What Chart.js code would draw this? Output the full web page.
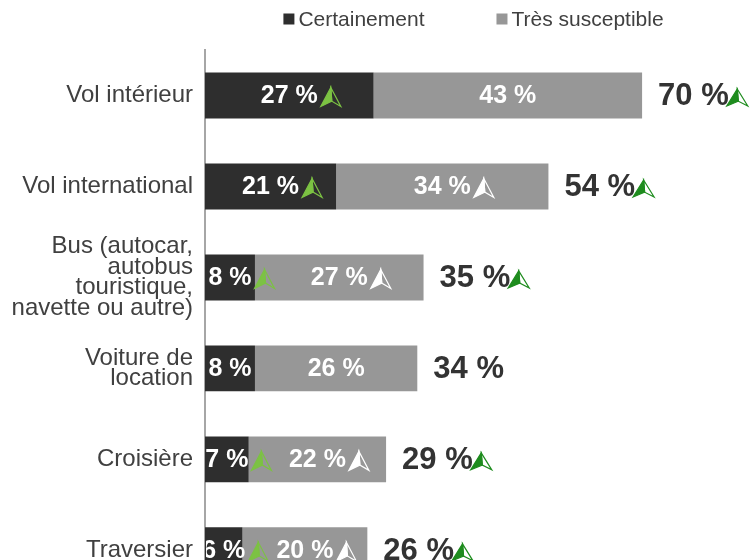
<!DOCTYPE html>
<html lang="fr">
<head>
<meta charset="UTF-8">
<title>Intention de voyage par moyen de transport</title>
<script src="https://cdn.jsdelivr.net/npm/chart.js"></script>
<style>
    html, body { margin: 0; padding: 0; background: #ffffff; overflow: hidden; }
    #wrap { width: 753px; height: 618px; }
</style>
</head>
<body>
<div id="wrap"><canvas id="myChart" width="753" height="618"></canvas></div>
<script>
    const categories = [
        'Vol intérieur',
        'Vol international',
        ['Bus (autocar,', 'autobus', 'touristique,', 'navette ou autre)'],
        ['Voiture de', 'location'],
        'Croisière',
        'Traversier'
    ];
    const certainement = [27, 21, 8, 8, 7, 6];
    const tresSusceptible = [43, 34, 27, 26, 22, 20];
    const totals = [70, 54, 35, 34, 29, 26];
    // which labels carry the "up" trend marker
    const upCertainement = [true, true, true, false, true, true];
    const upTres = [false, true, true, false, true, true];
    const upTotal = [true, true, true, false, true, true];

    const FONT = "'Liberation Sans', Arial, sans-serif";
    const DARK = '#2e2e2e';
    const GREY = '#979797';

    // half filled, half outlined "up" marker
    function drawArrow(ctx, x, cy, color, w, h) {
        const top = cy - h / 2, bottom = cy + h / 2;
        const apex = x + w * 0.5;
        const nx = x + w * 0.55, ny = top + h * 0.72;
        ctx.save();
        ctx.fillStyle = color;
        ctx.strokeStyle = color;
        ctx.lineWidth = 1.2;
        ctx.beginPath();
        ctx.moveTo(apex, top);
        ctx.lineTo(x, bottom);
        ctx.lineTo(nx, ny);
        ctx.closePath();
        ctx.fill();
        ctx.stroke();
        ctx.beginPath();
        ctx.moveTo(apex, top);
        ctx.lineTo(x + w, bottom);
        ctx.lineTo(nx, ny);
        ctx.closePath();
        ctx.stroke();
        ctx.restore();
    }

    // labels inside the bars + totals at the end, with trend arrows
    const barLabels = {
        id: 'barLabels',
        afterDatasetsDraw(chart) {
            const ctx = chart.ctx;
            const area = chart.chartArea;
            const flags = [upCertainement, upTres];
            const arrowColors = ['#7cc243', '#ffffff'];
            ctx.save();
            ctx.beginPath();
            ctx.rect(area.left + 1, 0, chart.width, chart.height);
            ctx.clip();
            ctx.font = 'bold 25px ' + FONT;
            ctx.textAlign = 'center';
            ctx.textBaseline = 'middle';
            ctx.fillStyle = '#ffffff';
            chart.data.datasets.forEach((ds, d) => {
                chart.getDatasetMeta(d).data.forEach((bar, i) => {
                    const cx = (bar.x + bar.base) / 2;
                    const txt = ds.data[i] + ' %';
                    ctx.fillText(txt, cx, bar.y + 1);
                    if (flags[d][i]) {
                        const tw = ctx.measureText(txt).width;
                        drawArrow(ctx, cx + tw / 2 + 3, bar.y + 1.5, arrowColors[d], 20, 19);
                    }
                });
            });
            ctx.restore();

            ctx.save();
            ctx.font = 'bold 31px ' + FONT;
            ctx.textAlign = 'left';
            ctx.textBaseline = 'middle';
            ctx.fillStyle = '#333333';
            const last = chart.getDatasetMeta(chart.data.datasets.length - 1).data;
            last.forEach((bar, i) => {
                const txt = totals[i] + ' %';
                const x = bar.x + 16;
                ctx.fillText(txt, x, bar.y + 1);
                if (upTotal[i]) {
                    const tw = ctx.measureText(txt).width;
                    drawArrow(ctx, x + tw - 2, bar.y + 2, '#1e8c1e', 21, 17);
                }
            });
            ctx.restore();
        },
        afterDraw(chart) {
            // legend centred over the plot area
            const ctx = chart.ctx;
            const area = chart.chartArea;
            ctx.save();
            ctx.font = '21px ' + FONT;
            ctx.textBaseline = 'middle';
            ctx.textAlign = 'left';
            const box = 11, gapBox = 4, gapItem = 72;
            const items = chart.data.datasets.map(ds => ({
                text: ds.label, color: ds.backgroundColor,
                w: box + gapBox + ctx.measureText(ds.label).width
            }));
            const total = items.reduce((s, it) => s + it.w, 0) + gapItem * (items.length - 1);
            let x = (area.left + area.right) / 2 - total / 2;
            const y = 19;
            items.forEach(it => {
                ctx.fillStyle = it.color;
                ctx.fillRect(x, y - box / 2, box, box);
                ctx.fillStyle = '#404040';
                ctx.fillText(it.text, x + box + gapBox, y + 1);
                x += it.w + gapItem;
            });
            ctx.restore();
        }
    };

    const ctx = document.getElementById('myChart').getContext('2d');
    const myChart = new Chart(ctx, {
        type: 'bar',
        data: {
            labels: categories,
            datasets: [{
                label: 'Certainement',
                data: certainement,
                backgroundColor: DARK,
                barPercentage: 0.505,
                categoryPercentage: 1.0
            },
            {
                label: 'Très susceptible',
                data: tresSusceptible,
                backgroundColor: GREY,
                barPercentage: 0.505,
                categoryPercentage: 1.0
            }]
        },
        options: {
            indexAxis: 'y',
            responsive: false,
            animation: false,
            devicePixelRatio: 1,
            layout: { padding: { top: 50, right: 11, bottom: 6, left: 0 } },
            plugins: {
                legend: { display: false },
                tooltip: { enabled: false }
            },
            scales: {
                x: { stacked: true, display: false, min: 0, max: 86 },
                y: {
                    stacked: true,
                    grid: { display: false, drawTicks: false },
                    border: { display: true, color: '#a6a6a6', width: 2 },
                    ticks: {
                        color: '#404040',
                        padding: 12,
                        font: { family: FONT, size: 24, lineHeight: 0.85 }
                    },
                    afterFit(scale) { scale.width = 205; }
                }
            }
        },
        plugins: [barLabels]
    });
</script>
</body>
</html>
